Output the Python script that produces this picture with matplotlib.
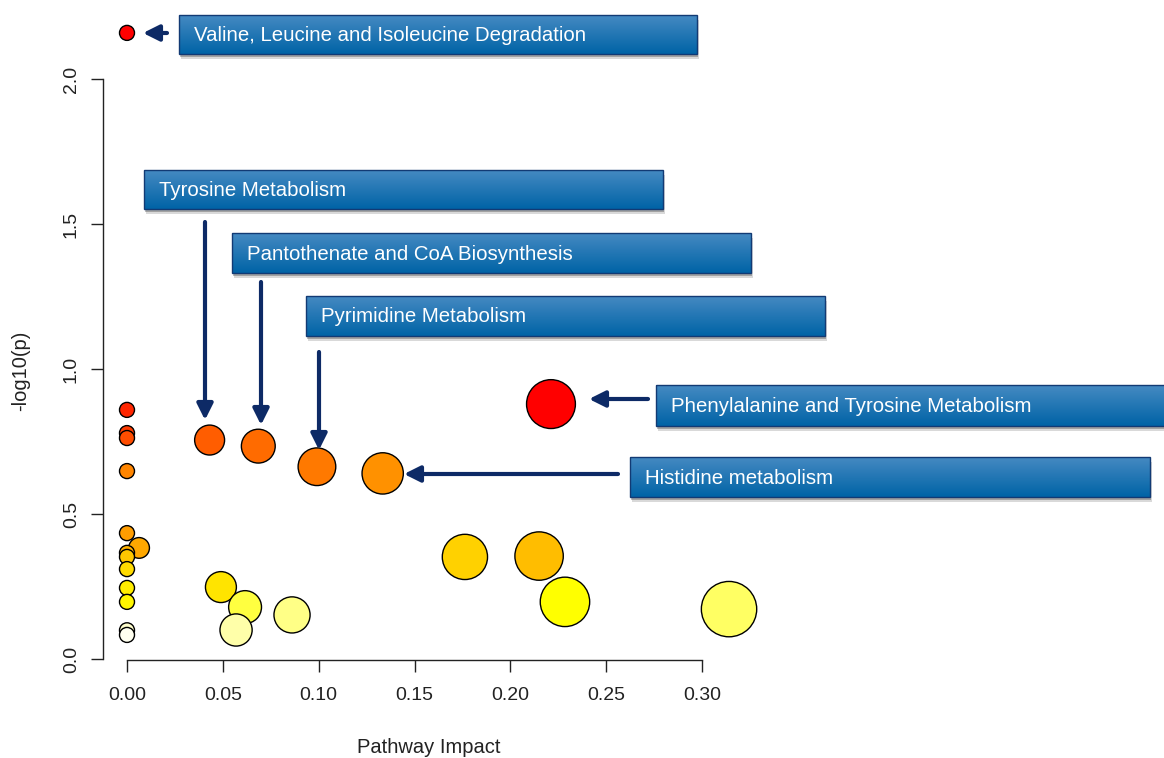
import colorsys
import numpy as np
import matplotlib
matplotlib.use("Agg")
import matplotlib.pyplot as plt
from matplotlib.patches import Rectangle

plt.rcParams['font.family'] = ['Liberation Sans', 'DejaVu Sans']

# pathway impact (x) and -log10(p) (y)
impact = [0.0, 0.0, 0.0, 0.0, 0.0, 0.0, 0.0, 0.0, 0.0, 0.0, 0.0, 0.0, 0.0,
          0.0063, 0.0431, 0.0685, 0.0991, 0.1334, 0.2212, 0.1763, 0.2150,
          0.2285, 0.3141, 0.0490, 0.0616, 0.0569, 0.0861]
neglogp = [2.159, 0.859, 0.779, 0.762, 0.648, 0.434, 0.366, 0.352, 0.310,
           0.245, 0.197, 0.099, 0.083,
           0.383, 0.755, 0.734, 0.663, 0.640, 0.879, 0.352, 0.355,
           0.197, 0.172, 0.248, 0.179, 0.100, 0.152]

x_ticks = [0.0, 0.05, 0.10, 0.15, 0.20, 0.25, 0.30]
y_ticks = [0.0, 0.5, 1.0, 1.5, 2.0]

pathway_labels = ["Valine, Leucine and Isoleucine Degradation",
                  "Tyrosine Metabolism",
                  "Pantothenate and CoA Biosynthesis",
                  "Pyrimidine Metabolism",
                  "Phenylalanine and Tyrosine Metabolism",
                  "Histidine metabolism"]

# label layout in figure pixels: box (left, top, width, height), arrow tail, arrow tip
boxes = [(179, 15, 518, 39), (144, 170, 519, 39), (232, 233, 519, 40),
         (306, 296, 519, 40), (656, 385, 530, 41), (630, 457, 520, 40)]
arrows = [((167, 33), (143, 33)), ((205, 222), (205, 420)),
          ((261, 282), (261, 425)), ((319, 352), (319, 450)),
          ((648, 399), (589, 399)), ((618, 474), (404, 474))]


def heat_colors(n):
    # heat.colors-like ramp: red -> orange -> yellow, then fading to white
    j = n // 4
    i = n - j
    t = np.clip((np.arange(i) - 1) / (i - 2), 0, 1) ** 0.65
    cols = [colorsys.hsv_to_rgb(h, 1, 1) for h in t / 6]
    if j > 0:
        cols += [colorsys.hsv_to_rgb(1 / 6, s, 1)
                 for s in np.linspace(0.75, 0.06, j)]
    return cols


x = np.array(impact)
y = np.array(neglogp)
order = np.argsort(-y, kind='stable')
heat = heat_colors(len(y))
colors = [None] * len(y)
for k, idx in enumerate(order):
    colors[idx] = heat[k]

# bubble radius grows with impact (pixels), converted to points^2
r_px = 7.5 + 36 * np.sqrt(x)
sizes = (2 * r_px * 0.72) ** 2

W, H = 1164, 758
fig = plt.figure(figsize=(W / 100, H / 100), dpi=100)
ax = fig.add_axes([103 / W, 1 - 660 / H, 650 / W, 651 / H])
ax.set_xlim((103 - 127) / 1916.7, (753 - 127) / 1916.7)
ax.set_ylim((659 - 660) / 290.0, (659 - 9) / 290.0)

# lower -log10(p) drawn last so it sits on top
ax.scatter(x[order], y[order], s=sizes[order], c=[colors[i] for i in order],
           edgecolors='black', linewidths=1.0, zorder=3, clip_on=False)

for side in ['top', 'right']:
    ax.spines[side].set_visible(False)
ax.spines['left'].set_bounds(0, 2.0)
ax.spines['bottom'].set_bounds(0, 0.30)
for side in ['left', 'bottom']:
    ax.spines[side].set_linewidth(1.0)
    ax.spines[side].set_color('#222222')

ax.set_xticks(x_ticks)
ax.set_xticklabels([f"{v:.2f}" for v in x_ticks])
ax.set_yticks(y_ticks)
ax.set_yticklabels([f"{v:.1f}" for v in y_ticks])
ax.tick_params(axis='both', direction='out', length=8.6, width=1.0,
               color='#222222', labelsize=14, labelcolor='#222222')
ax.tick_params(axis='x', pad=11)
ax.tick_params(axis='y', pad=8)
for lbl in ax.get_yticklabels():
    lbl.set_rotation(90)
    lbl.set_va('center')

ax.set_xlabel("Pathway Impact", fontsize=14.5, color='#222222')
ax.xaxis.set_label_coords((429 - 103) / 650, (660 - 738) / 651)
ax.set_ylabel("-log10(p)", fontsize=14.5, color='#222222')
ax.yaxis.set_label_coords((30 - 103) / 650, (660 - 371) / 651)

# overlay in pixel coords for the label boxes and arrows
ov = fig.add_axes([0, 0, 1, 1], zorder=5)
ov.set_axis_off()
ov.patch.set_alpha(0)

grad = np.linspace(0, 1, 64)[:, None]
top_c = np.array([0x45, 0x8a, 0xc2]) / 255
bot_c = np.array([0x00, 0x63, 0xa6]) / 255
grad_img = (top_c * (1 - grad) + bot_c * grad).reshape(64, 1, 3)

navy = '#0d2a66'
for label, (bl, bt, bw, bh), (tail, tip) in zip(pathway_labels, boxes, arrows):
    # soft shadow
    ov.add_patch(Rectangle((bl + 2, bt + 5), bw, bh, facecolor='black',
                           alpha=0.15, edgecolor='none'))
    ov.add_patch(Rectangle((bl + 1, bt + 3), bw, bh, facecolor='black',
                           alpha=0.25, edgecolor='none'))
    ov.imshow(grad_img, extent=(bl, bl + bw, bt + bh, bt), aspect='auto',
              interpolation='bilinear', zorder=2)
    ov.add_patch(Rectangle((bl, bt), bw, bh, fill=False, edgecolor='#123a74',
                           linewidth=1.0, zorder=3))
    ov.text(bl + 15, bt + bh / 2 + 1, label, color='white', fontsize=14.7,
            ha='left', va='center', zorder=4)
    ov.annotate('', xy=tip, xytext=tail,
                arrowprops=dict(arrowstyle='-|>', color=navy, lw=3,
                                mutation_scale=24, shrinkA=0, shrinkB=0))

ov.set_xlim(0, W)
ov.set_ylim(H, 0)

fig.savefig("out.png", dpi=100)
